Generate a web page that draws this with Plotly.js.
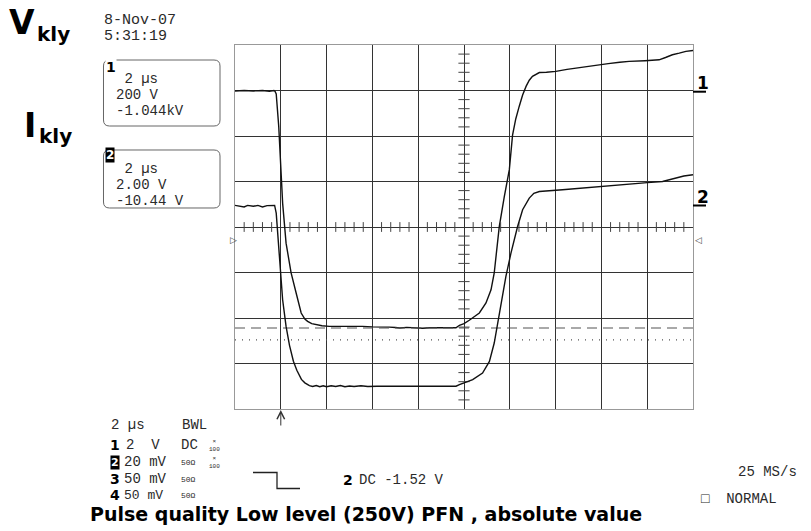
<!DOCTYPE html>
<html>
<head>
<meta charset="utf-8">
<script src="https://cdn.plot.ly/plotly-3.0.1.min.js"></script>
<style>html,body{margin:0;padding:0;background:#fff;}#plot{width:811px;height:531px;}</style>
</head>
<body>
<div id="plot"></div>
<script>
// ---- Data (time in µs, 2 µs/div) ----
// Channel 1: klystron voltage, 200 V/div
const time1 = [-10.0,-9.6,-9.2,-8.8,-8.5,-8.3,-8.25,-8.20,-8.09,-7.99,-7.92,-7.77,-7.55,-7.33,-7.11,-6.95,-6.83,-6.65,-6.46,-6.2,-5.88,-5.4,-4.9,-4.43,-4.0,-3.6,-3.26,-3.0,-2.8,-2.5,-2.09,-1.8,-1.5,-1.08,-0.7,-0.35,-0.2,0.0,0.23,0.45,0.67,0.96,1.18,1.32,1.54,1.76,1.98,2.12,2.26,2.41,2.56,2.71,2.85,2.99,3.15,3.29,3.6,4.01,4.5,5.0,5.5,5.76,6.3,6.8,7.21,7.9,8.52,8.8,9.1,9.4,9.69,10.0];
const volt1 = [598,600,598,600,597,600,596,585,442,252,105,-71,-202,-290,-378,-405,-415,-425,-430,-434,-437,-436,-438,-437,-439,-438,-440,-442,-444,-441,-444,-445,-443,-444,-444,-443,-432,-425,-410,-395,-378,-334,-276,-202,2,134,252,404,475,530,580,618,645,662,673,679,680,684,693,700,707,713,718,724,728,731,735,745,757,764,772,776];
// Channel 2: klystron current (probe output), 2 V/div
const time2 = [-10.0,-9.8,-9.6,-9.45,-9.2,-9.0,-8.8,-8.6,-8.4,-8.27,-8.20,-8.13,-8.03,-7.92,-7.77,-7.62,-7.45,-7.30,-7.10,-6.95,-6.75,-6.61,-6.45,-6.30,-6.15,-6.0,-5.8,-5.6,-5.4,-5.2,-5.0,-4.8,-4.5,-4.2,-3.8,-3.0,-2.0,-1.0,-0.35,-0.2,0.38,0.81,1.11,1.32,1.54,1.83,2.05,2.34,2.56,2.85,3.05,3.29,4.30,5.0,5.5,5.76,6.5,7.21,8.0,8.67,9.0,9.25,9.6,10.0];
const volt2 = [0.95,0.93,0.88,0.95,0.91,0.95,0.88,0.94,0.93,0.95,0.61,-0.42,-2.02,-3.2,-4.37,-5.2,-5.9,-6.3,-6.7,-6.85,-6.97,-7.01,-6.97,-7.02,-6.98,-7.02,-6.98,-7.01,-6.97,-7.02,-6.99,-7.01,-6.98,-7.01,-7.0,-7.0,-7.01,-7.0,-7.0,-6.93,-6.71,-6.42,-5.91,-5.10,-3.78,-2.17,-1.15,0.02,0.76,1.27,1.48,1.56,1.64,1.70,1.74,1.78,1.85,1.90,1.95,2.0,2.08,2.15,2.24,2.30];
// Horizontal cursors (channel 1 scale, V)
const cursorDashedV = -444;
const cursorDottedV = -496;
const trigTimeUs = -8;

// ---- geometry helpers (pixel -> paper) ----
const L = 235, T = 45, W = 458, H = 364;
const px = x => (x - L) / W;
const py = y => (T + H - y) / H;
const mono = 'Liberation Mono, DejaVu Sans Mono, monospace';
const bold = 'DejaVu Sans, Arial, sans-serif';
const ink = '#2a2a2a';

function txt(text, x, y, size, extra) {
  return Object.assign({xref:'paper', yref:'paper', x:px(x), y:py(y), xanchor:'left', yanchor:'middle',
    text:text, showarrow:false, borderpad:0, font:{family:mono, size:size, color:ink}}, extra || {});
}
function bd(text, x, y, size, extra) {
  return txt(text, x, y, size, Object.assign({font:{family:bold, size:size, color:'#000', weight:'bold'}}, extra || {}));
}
function rr(x0,y0,x1,y1,r){
  const p = (a,b)=> px(a).toFixed(5)+','+py(b).toFixed(5);
  return 'M'+p(x0+r,y0)+' L'+p(x1-r,y0)+' Q'+p(x1,y0)+' '+p(x1,y0+r)+' L'+p(x1,y1-r)+' Q'+p(x1,y1)+' '+p(x1-r,y1)+
    ' L'+p(x0+r,y1)+' Q'+p(x0,y1)+' '+p(x0,y1-r)+' L'+p(x0,y0+r)+' Q'+p(x0,y0)+' '+p(x0+r,y0)+' Z';
}
function pline(pts){ return 'M'+pts.map(q=>px(q[0]).toFixed(5)+','+py(q[1]).toFixed(5)).join(' L'); }

// ---- traces ----
const traces = [
  {x:time1, y:volt1, type:'scatter', mode:'lines', line:{color:'#111', width:1.4}, yaxis:'y', hoverinfo:'skip'},
  {x:time2, y:volt2, type:'scatter', mode:'lines', line:{color:'#111', width:1.4}, yaxis:'y2', hoverinfo:'skip'},
  {x:[-10,10], y:[cursorDashedV,cursorDashedV], mode:'lines', line:{color:'#555', width:1.2, dash:'10px,6px'}, hoverinfo:'skip'},
  {x:[-10,10], y:[cursorDottedV,cursorDottedV], mode:'lines', line:{color:'#555', width:1.2, dash:'1px,6px'}, hoverinfo:'skip'}
];
// centre graticule minor ticks (every 1/5 division)
const tx = [], ty0 = [], ty = [], tx0 = [];
for (let i = -50; i <= 50; i++) { if (i % 5 !== 0) { tx.push(i*0.4); ty0.push(0); } }
for (let j = -20; j <= 20; j++) { if (j % 5 !== 0) { ty.push(j*40); tx0.push(0); } }
traces.push({x:tx, y:ty0, mode:'markers', marker:{symbol:'line-ns', size:7, line:{width:1, color:'#444'}}, hoverinfo:'skip'});
traces.push({x:tx0, y:ty, mode:'markers', marker:{symbol:'line-ew', size:8, line:{width:1, color:'#444'}}, hoverinfo:'skip'});

const ax = {showgrid:true, gridcolor:'#333', gridwidth:1, zeroline:false, showticklabels:false, ticks:'',
  showline:true, mirror:true, linecolor:'#999', linewidth:1, fixedrange:true};

const annotations = [
  // big labels
  bd('V', 8, 23, 33),
  bd('kly', 36, 34, 20),
  bd('I', 23, 125, 33),
  bd('kly', 38, 136, 20),
  // date / time
  txt('8-Nov-07', 103, 20, 15),
  txt('5:31:19', 103, 36, 15),
  // channel 1 box
  bd('1', 105, 67, 14, {bgcolor:'#fff'}),
  txt(' 2 µs', 115, 79, 14),
  txt('200 V', 115, 95, 14),
  txt('-1.044kV', 115, 111, 14),
  // channel 2 box
  bd('2', 105, 155, 12, {font:{family:bold, size:12, color:'#fff', weight:'bold'}, bgcolor:'#000'}),
  txt(' 2 µs', 115, 169, 14),
  txt('2.00 V', 115, 185, 14),
  txt('-10.44 V', 115, 201, 14),
  // right channel markers
  bd('1', 696, 83, 17),
  bd('2', 696, 197, 17),
  // offset markers
  txt('▷', 229, 240, 9, {font:{family:'DejaVu Sans', size:9, color:'#444'}}),
  txt('◁', 694, 240, 9, {font:{family:'DejaVu Sans', size:9, color:'#444'}}),
  // trigger arrow
  {xref:'x', yref:'paper', x:trigTimeUs, y:py(410), ax:0, ay:17, text:'', showarrow:true, arrowhead:5, arrowsize:1.5, arrowwidth:1, arrowcolor:'#333'},
  // bottom status block
  txt('2 µs', 110, 425, 14),
  txt('BWL', 181, 425, 14),
  bd('1', 109, 445, 14),
  txt('2  V', 125, 445, 14),
  txt('DC', 180, 445, 14),
  txt('×<br>100', 208, 445, 6),
  bd('2', 110, 462, 11, {font:{family:bold, size:11, color:'#fff', weight:'bold'}, bgcolor:'#000'}),
  txt('20 mV', 123, 462, 14),
  txt('50Ω', 180, 462, 8),
  txt('×<br>100', 208, 462, 6),
  bd('3', 109, 479, 14),
  txt('50 mV', 123, 479, 14),
  txt('50Ω', 180, 479, 8),
  bd('4', 109, 495, 14),
  txt('50 mV', 123, 495, 13),
  txt('50Ω', 180, 495, 8),
  bd('2', 342, 480, 14),
  txt('DC -1.52 V', 358, 480, 14),
  txt('25 MS/s', 737, 472, 14),
  txt('□  NORMAL', 700, 499, 14),
  // caption
  bd('Pulse quality Low level (250V) PFN , absolute value', 89, 514, 19)
];

const shapes = [
  {type:'path', xref:'paper', yref:'paper', path:rr(103.5,60,220,126,6), line:{color:'#666', width:1}},
  {type:'path', xref:'paper', yref:'paper', path:rr(103.5,150,220,208,6), line:{color:'#666', width:1}},
  {type:'path', xref:'paper', yref:'paper', path:pline([[693,91.7],[706,91.7]]), line:{color:'#000', width:2}},
  {type:'path', xref:'paper', yref:'paper', path:pline([[693,205.5],[706,205.5]]), line:{color:'#000', width:2}},
  {type:'path', xref:'paper', yref:'paper', path:pline([[253,472.5],[277,472.5],[277,488.5],[300,488.5]]), line:{color:'#222', width:1.3}}
];

const layout = {
  width:811, height:531, paper_bgcolor:'#fff', plot_bgcolor:'#fff', showlegend:false,
  margin:{l:L, r:811-L-W, t:T, b:531-T-H, pad:0},
  xaxis:Object.assign({range:[-10,10], tick0:-10, dtick:2}, ax),
  yaxis:Object.assign({range:[-800,800], tick0:-800, dtick:200}, ax),
  yaxis2:{range:[-8,8], overlaying:'y', visible:false, fixedrange:true},
  annotations:annotations, shapes:shapes
};
Plotly.newPlot('plot', traces, layout, {staticPlot:true, displayModeBar:false});
</script>
</body>
</html>
